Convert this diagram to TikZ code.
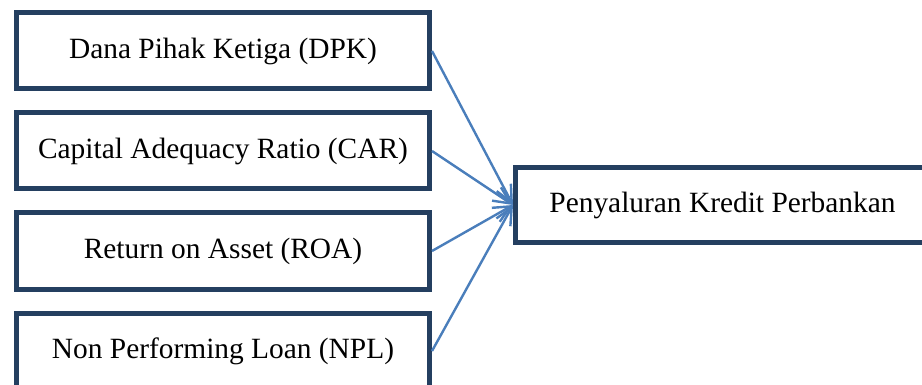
\documentclass[tikz,border=0pt]{standalone}
\usepackage{fontspec}
\setmainfont{Liberation Serif}
\usetikzlibrary{positioning, arrows.meta}
\definecolor{boxnavy}{HTML}{243F60}
\definecolor{arrowblue}{HTML}{4A7EBB}
\tikzstyle{factor} = [rectangle, draw=boxnavy, line width=5pt, minimum width=413pt, minimum height=76pt, text centered, font=\fontsize{29.4}{35}\selectfont]
\tikzstyle{target} = [factor, minimum width=414pt, minimum height=75pt]
\tikzstyle{arrow} = [line width=2.4pt, draw=arrowblue, ->, >={Straight Barb[length=17pt,width=16pt]}]

\begin{document}
\begin{tikzpicture}[x=1pt, y=1pt, node distance=19pt]
	\useasboundingbox (0,0) rectangle (922,-385);
	\clip (0,0) rectangle (922,-385);

	\node (dpk) [factor] at (223,-51) {Dana Pihak Ketiga (DPK)};
	\node (car) [factor, below=of dpk] {Capital Adequacy Ratio (CAR)};
	\node (roa) [factor, below=of car] {Return on Asset (ROA)};
	\node (npl) [factor, below=of roa] {Non Performing Loan (NPL)};

	\node (kredit) [target] at (722.5,-205) {Penyaluran Kredit Perbankan};

	\draw [arrow] (dpk.east) -- (kredit.west);
	\draw [arrow] (car.east) -- (kredit.west);
	\draw [arrow] (roa.east) -- (kredit.west);
	\draw [arrow] (npl.east) -- (kredit.west);
\end{tikzpicture}
\end{document}
